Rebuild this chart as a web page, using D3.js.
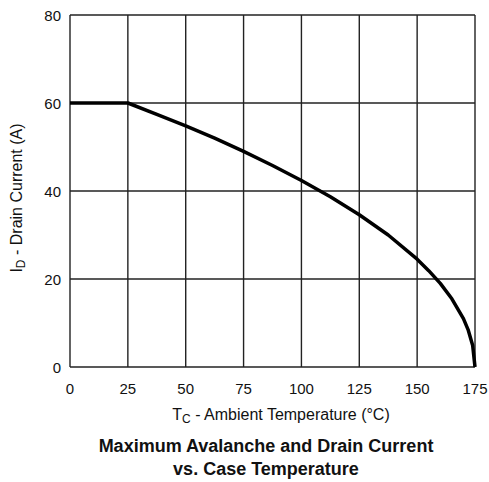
<!DOCTYPE html>
<html><head><meta charset="utf-8">
<script src="https://cdn.jsdelivr.net/npm/d3@7"></script>
<style>body{margin:0;background:#fff}svg{display:block}text{font-family:"Liberation Sans",Arial,sans-serif}</style>
</head><body><svg id="c" width="489" height="482"></svg>
<script>
const tempC = [0, 25, 37.5, 50, 62.5, 75, 87.5, 100, 112.5, 125, 137.5, 150, 155, 160, 165, 170, 172, 174, 175];
const drainA = [60, 60, 57.4, 54.8, 52, 49, 45.8, 42.4, 38.7, 34.6, 30, 24.5, 21.9, 19, 15.5, 11, 8.5, 4.9, 0];
const xTicks = [0, 25, 50, 75, 100, 125, 150, 175];
const yTicks = [0, 20, 40, 60, 80];

const svg = d3.select("#c");
const x = d3.scaleLinear().domain([0, 175]).range([70, 475]);
const y = d3.scaleLinear().domain([0, 80]).range([367, 15]);

svg.append("g").selectAll("line").data(xTicks).join("line")
  .attr("x1", d => x(d)).attr("x2", d => x(d)).attr("y1", y(0)).attr("y2", y(80))
  .attr("stroke", "#222").attr("stroke-width", 1.4);
svg.append("g").selectAll("line").data(yTicks).join("line")
  .attr("x1", x(0)).attr("x2", x(175)).attr("y1", d => y(d)).attr("y2", d => y(d))
  .attr("stroke", "#222").attr("stroke-width", 1.4);

svg.append("g").selectAll("text").data(xTicks).join("text")
  .attr("x", d => x(d)).attr("y", 394).attr("text-anchor", "middle")
  .attr("font-size", 15).attr("fill", "#111").text(d => d);
svg.append("g").selectAll("text").data(yTicks).join("text")
  .attr("x", 61).attr("y", d => y(d) + 5.5).attr("text-anchor", "end")
  .attr("font-size", 15).attr("fill", "#111").text(d => d);

const line = d3.line().x((d, i) => x(tempC[i])).y(d => y(d));
svg.append("path").datum(drainA).attr("d", line).attr("fill", "none")
  .attr("stroke", "#000").attr("stroke-width", 3.5).attr("stroke-linejoin", "round");

const xl = svg.append("text").attr("x", 281).attr("y", 420).attr("text-anchor", "middle")
  .attr("font-size", 16).attr("fill", "#111");
xl.append("tspan").text("T");
xl.append("tspan").attr("font-size", 12).attr("dy", 3).text("C");
xl.append("tspan").attr("dy", -3).text(" - Ambient Temperature (°C)");

const yl = svg.append("text").attr("transform", "translate(22,198) rotate(-90)")
  .attr("text-anchor", "middle").attr("font-size", 16).attr("fill", "#111");
yl.append("tspan").text("I");
yl.append("tspan").attr("font-size", 12).attr("dy", 3).text("D");
yl.append("tspan").attr("dy", -3).text(" - Drain Current (A)");

svg.append("text").attr("x", 266).attr("y", 452).attr("text-anchor", "middle")
  .attr("font-size", 18).attr("font-weight", "bold").attr("fill", "#111")
  .text("Maximum Avalanche and Drain Current");
svg.append("text").attr("x", 266).attr("y", 475).attr("text-anchor", "middle")
  .attr("font-size", 18).attr("font-weight", "bold").attr("fill", "#111")
  .text("vs. Case Temperature");
</script></body></html>
